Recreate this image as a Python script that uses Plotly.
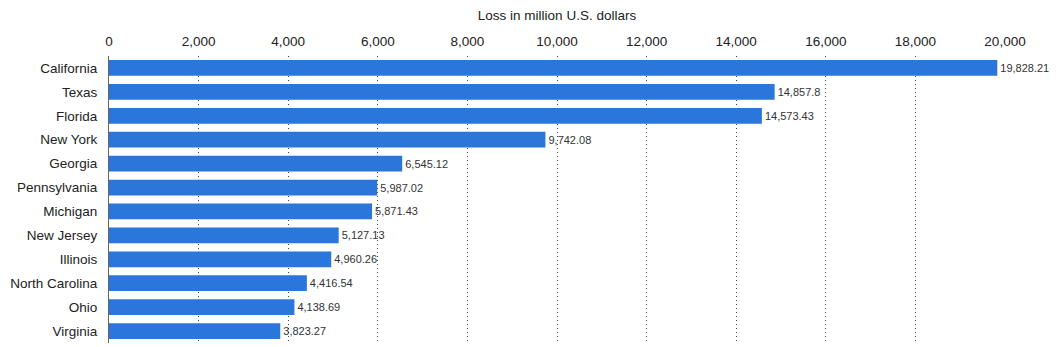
import plotly.graph_objects as go

states = ["California", "Texas", "Florida", "New York", "Georgia", "Pennsylvania",
          "Michigan", "New Jersey", "Illinois", "North Carolina", "Ohio", "Virginia"]
losses = [19828.21, 14857.8, 14573.43, 9742.08, 6545.12, 5987.02,
          5871.43, 5127.13, 4960.26, 4416.54, 4138.69, 3823.27]
labels = ["19,828.21", "14,857.8", "14,573.43", "9,742.08", "6,545.12", "5,987.02",
          "5,871.43", "5,127.13", "4,960.26", "4,416.54", "4,138.69", "3,823.27"]
tick_vals = list(range(0, 20001, 2000))
tick_text = [f"{v:,}" for v in tick_vals]

fig = go.Figure(go.Bar(
    x=losses, y=states, orientation="h",
    marker=dict(color="#2b76db", line=dict(width=0)),
    text=labels, textposition="outside", cliponaxis=False,
    textfont=dict(family="Liberation Sans, Arial, sans-serif", size=11, color="#333333"),
))

fig.update_layout(
    width=1060, height=347,
    margin=dict(l=109, r=55, t=56, b=4),
    paper_bgcolor="white", plot_bgcolor="white",
    bargap=0.34,
    showlegend=False,
    font=dict(family="Liberation Sans, Arial, sans-serif", size=13.5, color="#222222"),
)
fig.update_xaxes(
    side="top", range=[0, 20000],
    tickvals=tick_vals, ticktext=tick_text,
    tickfont=dict(size=13.5, color="#222222"),
    ticklabelstandoff=6,
    showgrid=True, gridcolor="#444444", griddash="1px,3px", gridwidth=1,
    zeroline=False, showline=False, ticks="",
    title=dict(text="Loss in million U.S. dollars", font=dict(size=13.5, color="#222222"), standoff=10),
)
fig.update_yaxes(
    autorange="reversed",
    showline=True, linecolor="#666666", linewidth=1,
    ticks="", ticklabelstandoff=8,
    tickfont=dict(size=13.5, color="#222222"),
    showgrid=False,
)

fig.write_html("out.html")
